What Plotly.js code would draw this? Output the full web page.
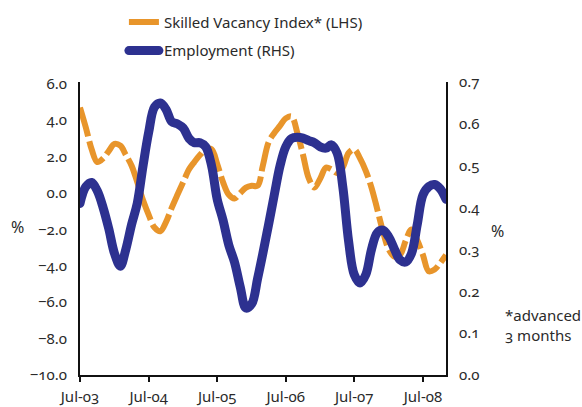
<!DOCTYPE html>
<html>
<head>
<meta charset="utf-8">
<script src="https://cdn.plot.ly/plotly-3.0.1.min.js"></script>
<style>
  html, body { margin: 0; padding: 0; background: #fff; }
  #chart { width: 582px; height: 407px; }
  .main-svg text { font-variant-numeric: oldstyle-nums !important; font-feature-settings: "onum" 1 !important; }
  /* legend swatches are drawn solid, as in the reference */
  .legend path { stroke-dasharray: none !important; }
</style>
</head>
<body>
<div id="chart"></div>
<script>
const months = [
  "2003-07","2003-08","2003-09","2003-10","2003-11","2003-12",
  "2004-01","2004-02","2004-03","2004-04","2004-05","2004-06",
  "2004-07","2004-08","2004-09","2004-10","2004-11","2004-12",
  "2005-01","2005-02","2005-03","2005-04","2005-05","2005-06",
  "2005-07","2005-08","2005-09","2005-10","2005-11","2005-12",
  "2006-01","2006-02","2006-03","2006-04","2006-05","2006-06",
  "2006-07","2006-08","2006-09","2006-10","2006-11","2006-12",
  "2007-01","2007-02","2007-03","2007-04","2007-05","2007-06",
  "2007-07","2007-08","2007-09","2007-10","2007-11","2007-12",
  "2008-01","2008-02","2008-03","2008-04","2008-05","2008-06",
  "2008-07","2008-08","2008-09","2008-10","2008-11"
];

const skilledVacancy = [
  4.7, 3.6, 2.4, 1.7, 1.9, 2.3,
  2.7, 2.6, 2.1, 1.5, 0.6, -0.4,
  -1.2, -1.9, -2.1, -1.6, -0.8, -0.1,
  0.6, 1.3, 1.7, 2.1, 2.4, 2.4,
  1.6, 0.6, -0.1, -0.3, 0.0, 0.3,
  0.4, 0.4, 1.5, 2.8, 3.3, 3.7,
  4.1, 4.2, 3.3, 2.1, 0.8, 0.3,
  0.8, 1.4, 1.3, 1.1, 1.4, 2.2,
  2.4, 1.9, 1.2, 0.3, -0.9, -2.1,
  -3.1, -3.5, -3.4, -2.6, -2.0, -2.6,
  -3.4, -4.3, -4.2, -3.85, -3.4
];

const employment = [
  0.41, 0.45, 0.46, 0.44, 0.40, 0.35,
  0.29, 0.26, 0.30, 0.36, 0.41, 0.50,
  0.58, 0.64, 0.65, 0.635, 0.605, 0.60,
  0.59, 0.565, 0.555, 0.555, 0.545, 0.50,
  0.42, 0.37, 0.31, 0.27, 0.21, 0.16,
  0.17, 0.23, 0.29, 0.36, 0.43, 0.50,
  0.545, 0.565, 0.568, 0.566, 0.56, 0.555,
  0.545, 0.542, 0.55, 0.53, 0.45, 0.32,
  0.24, 0.22, 0.24, 0.30, 0.34, 0.346,
  0.33, 0.30, 0.275, 0.27, 0.29, 0.36,
  0.43, 0.45, 0.455, 0.445, 0.42
];

const xTickVals = ["2003-07-01","2004-07-01","2005-07-01","2006-07-01","2007-07-01","2008-07-01"];
const xTickText = ["Jul-03","Jul-04","Jul-05","Jul-06","Jul-07","Jul-08"];
const leftTicks = [-10, -8, -6, -4, -2, 0, 2, 4, 6];
const rightTicks = [0, 0.1, 0.2, 0.3, 0.4, 0.5, 0.6, 0.7];

const FONT = "Noto Sans, Open Sans, sans-serif";
const TXT = "#2a2a2a";
const ORANGE = "#E8952B";
const BLUE = "#2D3190";

const traces = [
  {
    x: months, y: skilledVacancy, yaxis: "y",
    name: "Skilled Vacancy Index* (LHS)",
    type: "scatter", mode: "lines",
    line: { color: ORANGE, width: 6, dash: "30px,5px", shape: "spline", smoothing: 1 },
    legendgroup: "a", hoverinfo: "skip"
  },
  {
    x: months, y: employment, yaxis: "y2",
    name: "Employment (RHS)",
    type: "scatter", mode: "lines",
    line: { color: BLUE, width: 9, shape: "spline", smoothing: 1 },
    legendgroup: "b", hoverinfo: "skip"
  }
];

const layout = {
  width: 582, height: 407,
  margin: { l: 80, r: 136, t: 82, b: 32, pad: 0, autoexpand: false },
  paper_bgcolor: "#fff", plot_bgcolor: "#fff",
  font: { family: FONT, size: 15, color: TXT },
  showlegend: true,
  legend: {
    x: 0.12, y: 1.26, xanchor: "left", yanchor: "top",
    traceorder: "grouped", tracegroupgap: 6,
    font: { family: FONT, size: 15, color: TXT },
    bgcolor: "rgba(0,0,0,0)"
  },
  xaxis: {
    type: "date",
    range: ["2003-07-01", "2008-11-01"],
    tickmode: "array", tickvals: xTickVals, ticktext: xTickText,
    tickangle: 0, automargin: false,
    showgrid: false, zeroline: false,
    showline: true, linecolor: "#111", linewidth: 2,
    ticks: "outside", ticklen: 5, tickwidth: 2, tickcolor: "#111",
    tickfont: { family: FONT, size: 15, color: TXT },
    ticklabelstandoff: 2,
    fixedrange: true
  },
  yaxis: {
    range: [-10, 6.1], automargin: false,
    tickmode: "array", tickvals: leftTicks,
    tickformat: ".1f",
    showgrid: false, zeroline: false,
    showline: true, linecolor: "#111", linewidth: 2,
    ticks: "", tickfont: { family: FONT, size: 15, color: TXT },
    ticklabelstandoff: 8,
    fixedrange: true
  },
  yaxis2: {
    range: [0, 0.7], overlaying: "y", side: "right", automargin: false,
    tickmode: "array", tickvals: rightTicks,
    tickformat: ".1f",
    showgrid: false, zeroline: false,
    showline: true, linecolor: "#111", linewidth: 2,
    ticks: "", tickfont: { family: FONT, size: 15, color: TXT },
    ticklabelstandoff: 8,
    fixedrange: true
  },
  annotations: [
    { text: "%", xref: "paper", yref: "paper", x: -0.171, y: 0.505,
      xanchor: "center", yanchor: "middle", showarrow: false,
      font: { family: FONT, size: 16, color: TXT } },
    { text: "%", xref: "paper", yref: "paper", x: 1.142, y: 0.49,
      xanchor: "center", yanchor: "middle", showarrow: false,
      font: { family: FONT, size: 16, color: TXT } },
    { text: "*advanced<br>3 months", xref: "paper", yref: "paper", x: 1.155, y: 0.17,
      xanchor: "left", yanchor: "middle", align: "left", showarrow: false,
      font: { family: FONT, size: 15, color: TXT } }
  ]
};

Plotly.newPlot("chart", traces, layout, { displayModeBar: false, staticPlot: true }).then(function () {
  // round caps only for the solid blue (Employment) line, in plot and legend
  document.querySelectorAll("#chart path.js-line").forEach(function (p) {
    const s = (p.style.stroke || "").replace(/\s/g, "");
    if (s === "rgb(45,49,144)") p.style.strokeLinecap = "round";
  });
});
</script>
</body>
</html>
